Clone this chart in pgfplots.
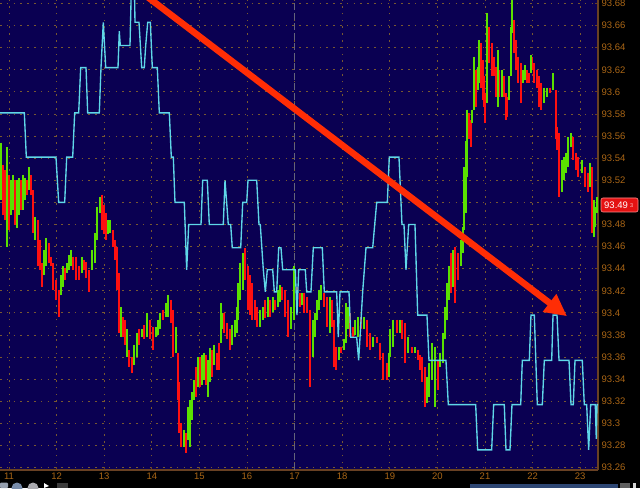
\documentclass[border=0pt]{standalone}
\usepackage{fontspec}
\setmainfont{Liberation Sans}
\usepackage{pgfplots}
\usepackage{pgfplotstable}
\pgfplotsset{compat=1.18}
\usetikzlibrary{arrows.meta}
\definecolor{bgnavy}{RGB}{10,0,82}
\definecolor{gridbrown}{RGB}{120,88,48}
\definecolor{axbrown}{RGB}{105,65,35}
\definecolor{lblorange}{RGB}{170,102,22}
\definecolor{cyanline}{RGB}{95,215,232}
\definecolor{barred}{RGB}{255,16,16}
\definecolor{bargreen}{RGB}{90,225,0}
\definecolor{arrowred}{RGB}{255,45,5}
\definecolor{tagred}{RGB}{228,18,18}
\definecolor{tagborder}{RGB}{255,140,140}
\definecolor{tagsmall}{RGB}{255,200,200}
\definecolor{vline}{RGB}{100,100,122}
\definecolor{uiA}{RGB}{150,160,175}
\definecolor{uiB}{RGB}{120,140,170}
\definecolor{uiC}{RGB}{170,170,175}
\definecolor{uiD}{RGB}{60,60,60}
\definecolor{uiE}{RGB}{45,70,115}
\definecolor{uiF}{RGB}{95,95,95}
\definecolor{uiG}{RGB}{210,210,210}

\pgfplotstableread{
t hi lo c
10.832 93.554 93.502 1
10.874 93.534 93.489 0
10.916 93.529 93.484 0
10.958 93.550 93.460 1
11.000 93.525 93.475 0
11.042 93.520 93.489 1
11.084 93.525 93.493 1
11.126 93.520 93.480 0
11.168 93.520 93.477 1
11.210 93.522 93.489 1
11.252 93.520 93.493 0
11.294 93.525 93.493 1
11.336 93.522 93.502 1
11.378 93.520 93.507 0
11.420 93.532 93.511 1
11.462 93.525 93.507 0
11.504 93.511 93.472 0
11.546 93.487 93.466 1
11.609 93.484 93.442 0
11.651 93.466 93.439 0
11.693 93.445 93.423 0
11.735 93.457 93.434 1
11.777 93.468 93.442 1
11.840 93.463 93.445 0
11.882 93.451 93.442 0
11.924 93.445 93.421 0
11.987 93.430 93.412 0
12.050 93.421 93.396 0
12.092 93.434 93.416 1
12.134 93.442 93.423 1
12.176 93.441 93.430 0
12.218 93.445 93.436 1
12.261 93.452 93.439 1
12.303 93.457 93.442 1
12.345 93.451 93.439 0
12.408 93.451 93.430 0
12.471 93.442 93.430 0
12.534 93.451 93.436 1
12.576 93.448 93.439 0
12.618 93.446 93.432 0
12.681 93.439 93.419 0
12.744 93.457 93.439 1
12.807 93.472 93.445 1
12.849 93.496 93.466 1
12.912 93.505 93.490 1
12.954 93.507 93.475 0
12.996 93.498 93.471 0
13.038 93.490 93.466 0
13.080 93.484 93.471 1
13.122 93.484 93.472 1
13.185 93.475 93.460 0
13.227 93.466 93.448 0
13.269 93.460 93.421 0
13.311 93.436 93.382 0
13.353 93.405 93.378 1
13.395 93.396 93.378 0
13.437 93.394 93.371 0
13.479 93.385 93.360 1
13.521 93.366 93.351 0
13.584 93.360 93.346 0
13.626 93.371 93.353 1
13.689 93.382 93.360 1
13.731 93.385 93.371 0
13.794 93.385 93.378 1
13.836 93.389 93.376 0
13.899 93.400 93.378 1
13.962 93.394 93.376 0
14.025 93.387 93.366 0
14.088 93.387 93.378 1
14.130 93.394 93.380 1
14.172 93.400 93.385 1
14.235 93.403 93.394 0
14.298 93.409 93.396 1
14.340 93.416 93.396 1
14.403 93.412 93.391 0
14.445 93.403 93.360 0
14.508 93.387 93.364 1
14.550 93.364 93.321 0
14.571 93.337 93.291 0
14.613 93.300 93.279 0
14.676 93.294 93.279 1
14.718 93.291 93.273 0
14.760 93.315 93.285 1
14.802 93.321 93.279 1
14.844 93.328 93.303 1
14.887 93.339 93.321 1
14.929 93.351 93.324 0
14.971 93.360 93.333 1
15.013 93.360 93.333 0
15.055 93.362 93.335 1
15.097 93.364 93.339 1
15.139 93.362 93.335 0
15.181 93.357 93.324 1
15.223 93.368 93.337 1
15.265 93.366 93.342 0
15.307 93.371 93.353 1
15.370 93.364 93.348 0
15.412 93.373 93.348 0
15.454 93.409 93.373 1
15.475 93.400 93.385 1
15.517 93.400 93.382 0
15.580 93.391 93.376 0
15.643 93.385 93.366 0
15.685 93.389 93.371 1
15.748 93.394 93.378 1
15.790 93.405 93.382 1
15.811 93.427 93.394 1
15.853 93.445 93.412 1
15.916 93.454 93.421 1
15.958 93.459 93.430 0
16.021 93.442 93.403 0
16.063 93.434 93.398 0
16.105 93.427 93.394 0
16.168 93.412 93.394 0
16.210 93.405 93.387 0
16.273 93.403 93.387 1
16.336 93.405 93.394 1
16.378 93.412 93.395 0
16.441 93.414 93.396 1
16.483 93.412 93.396 0
16.546 93.414 93.401 1
16.588 93.412 93.403 0
16.651 93.421 93.405 1
16.693 93.425 93.410 1
16.735 93.423 93.412 0
16.798 93.421 93.396 0
16.861 93.412 93.378 0
16.924 93.405 93.385 1
16.987 93.442 93.394 1
17.050 93.423 93.409 0
17.113 93.418 93.405 0
17.155 93.418 93.407 1
17.197 93.418 93.400 0
17.260 93.414 93.400 0
17.323 93.403 93.333 0
17.387 93.394 93.360 1
17.429 93.400 93.378 1
17.471 93.412 93.394 1
17.513 93.421 93.403 1
17.555 93.425 93.412 1
17.618 93.418 93.405 0
17.681 93.414 93.387 0
17.744 93.414 93.382 1
17.786 93.412 93.387 0
17.828 93.394 93.351 0
17.870 93.369 93.348 0
17.933 93.369 93.357 1
17.975 93.369 93.364 0
18.038 93.376 93.366 1
18.080 93.409 93.373 1
18.122 93.405 93.385 1
18.164 93.400 93.378 0
18.227 93.387 93.378 0
18.269 93.394 93.380 1
18.332 93.396 93.378 1
18.395 93.396 93.385 0
18.458 93.396 93.385 1
18.521 93.394 93.369 0
18.584 93.382 93.366 0
18.647 93.378 93.369 1
18.731 93.378 93.373 0
18.794 93.373 93.357 0
18.857 93.364 93.339 0
18.941 93.355 93.339 0
18.983 93.364 93.342 1
19.004 93.385 93.360 1
19.067 93.394 93.369 1
19.151 93.394 93.382 0
19.214 93.394 93.382 1
19.256 93.394 93.376 0
19.319 93.391 93.355 0
19.382 93.378 93.364 1
19.466 93.369 93.364 0
19.529 93.369 93.364 1
19.592 93.366 93.357 0
19.634 93.362 93.348 0
19.676 93.360 93.337 0
19.739 93.351 93.315 0
19.781 93.342 93.318 1
19.823 93.355 93.324 1
19.886 93.373 93.339 1
19.949 93.369 93.315 1
20.013 93.357 93.330 0
20.055 93.364 93.351 1
20.118 93.382 93.355 1
20.160 93.405 93.376 1
20.202 93.427 93.394 1
20.244 93.442 93.412 1
20.286 93.454 93.418 0
20.328 93.457 93.423 1
20.370 93.460 93.409 0
20.433 93.454 93.430 0
20.496 93.466 93.442 1
20.538 93.478 93.454 1
20.559 93.532 93.475 1
20.601 93.556 93.490 1
20.622 93.584 93.523 1
20.664 93.581 93.557 0
20.706 93.575 93.550 0
20.727 93.584 93.572 1
20.769 93.632 93.584 1
20.811 93.620 93.586 0
20.853 93.623 93.602 1
20.874 93.647 93.608 1
20.916 93.644 93.604 0
20.958 93.629 93.593 0
20.979 93.614 93.586 0
21.000 93.599 93.572 0
21.042 93.671 93.590 1
21.084 93.659 93.626 0
21.147 93.644 93.614 0
21.189 93.632 93.614 0
21.231 93.623 93.595 0
21.273 93.638 93.586 1
21.294 93.620 93.595 0
21.357 93.620 93.595 1
21.399 93.614 93.595 0
21.441 93.599 93.575 0
21.462 93.595 93.577 0
21.504 93.614 93.593 1
21.546 93.659 93.614 1
21.567 93.683 93.653 1
21.609 93.665 93.635 0
21.651 93.647 93.620 0
21.693 93.632 93.608 0
21.756 93.626 93.590 0
21.798 93.620 93.608 1
21.840 93.624 93.611 1
21.882 93.620 93.608 0
21.924 93.617 93.608 0
21.966 93.633 93.617 1
21.987 93.632 93.620 0
22.029 93.626 93.608 0
22.092 93.620 93.604 0
22.134 93.614 93.586 0
22.176 93.608 93.584 0
22.239 93.604 93.590 1
22.302 93.604 93.595 1
22.365 93.604 93.599 0
22.428 93.617 93.602 1
22.491 93.602 93.557 0
22.512 93.568 93.547 0
22.554 93.563 93.505 0
22.617 93.538 93.509 1
22.659 93.541 93.520 1
22.701 93.545 93.527 1
22.743 93.559 93.532 1
22.806 93.563 93.550 1
22.848 93.559 93.538 0
22.912 93.545 93.529 0
22.954 93.541 93.523 0
23.038 93.538 93.527 1
23.101 93.532 93.514 0
23.164 93.527 93.509 0
23.206 93.536 93.514 1
23.248 93.532 93.472 0
23.290 93.502 93.469 1
23.311 93.496 93.478 1
23.353 93.505 93.490 1
}\bars

\begin{document}
\begin{tikzpicture}[x=1pt,y=1pt]
\fill[black] (0pt,0pt) rectangle (640pt,488pt);
\begin{axis}[
  at={(0pt,18pt)}, anchor=south west,
  scale only axis, width=598pt, height=470pt,
  xmin=10.811, xmax=23.374, ymin=93.2578, ymax=93.6832,
  axis background/.style={fill=bgnavy},
  axis x line*=bottom, axis y line*=right,
  axis line style={axbrown, line width=1.6pt},
  xtick={11,12,13,14,15,16,17,18,19,20,21,22,23},
  ytick={93.26,93.28,93.30,93.32,93.34,93.36,93.38,93.40,93.42,93.44,93.46,93.48,93.50,93.52,93.54,93.56,93.58,93.60,93.62,93.64,93.66,93.68},
  scaled y ticks=false,
  tick align=inside, major tick length=3pt,
  tick style={axbrown, line width=0.9pt},
  grid=major,
  major grid style={gridbrown, line width=0.9pt, dash pattern=on 1.6pt off 5.2pt},
  /pgf/number format/assume math mode=true,
  ticklabel style={font=\fontsize{9.5}{10}\selectfont, text=lblorange},
  yticklabel style={anchor=west, inner sep=0pt, xshift=3.5pt, /pgf/number format/fixed, /pgf/number format/precision=2},
  xticklabel style={anchor=north, inner sep=0pt, yshift=-3pt},
]
\draw[vline, line width=1.4pt, dash pattern=on 7pt off 3pt] (axis cs:17,93.2578) -- (axis cs:17,93.6832);

\addplot[barred, line width=1.8pt, mark=none, line cap=butt,
  restrict expr to domain={\thisrow{c}}{-0.5:0.5},
  quiver={u=0, v={\thisrow{lo}-\thisrow{hi}}}]
  table[x=t, y=hi] {\bars};
\addplot[bargreen, line width=1.8pt, mark=none, line cap=butt,
  restrict expr to domain={\thisrow{c}}{0.5:1.5},
  quiver={u=0, v={\thisrow{lo}-\thisrow{hi}}}]
  table[x=t, y=hi] {\bars};

\addplot[cyanline, line width=1.35pt, mark=none] coordinates {
(10.811,93.581) (11.322,93.581) (11.364,93.541) (11.987,93.541) (12.044,93.500) (12.170,93.500) (12.212,93.541) (12.338,93.541) (12.380,93.581) (12.464,93.581) (12.506,93.622) (12.618,93.622) (12.653,93.581) (12.897,93.581) (12.933,93.622) (12.981,93.663) (13.032,93.622) (13.290,93.622) (13.317,93.655) (13.338,93.642) (13.542,93.642) (13.584,93.72) (13.626,93.72) (13.647,93.663) (13.731,93.663) (13.788,93.622) (13.842,93.622) (13.872,93.642) (13.914,93.663) (13.969,93.663) (14.011,93.622) (14.116,93.622) (14.158,93.581) (14.368,93.581) (14.410,93.541) (14.452,93.541) (14.487,93.500) (14.683,93.500) (14.733,93.439) (14.775,93.480) (15.034,93.480) (15.069,93.520) (15.166,93.520) (15.208,93.480) (15.502,93.480) (15.538,93.520) (15.607,93.480) (15.657,93.480) (15.691,93.459) (15.868,93.459) (15.910,93.500) (15.994,93.500) (16.021,93.520) (16.204,93.520) (16.252,93.480) (16.279,93.480) (16.343,93.439) (16.385,93.419) (16.426,93.439) (16.540,93.439) (16.574,93.419) (16.624,93.419) (16.666,93.459) (16.714,93.459) (16.750,93.439) (17.015,93.439) (17.050,93.398) (17.086,93.439) (17.225,93.439) (17.254,93.419) (17.344,93.419) (17.393,93.459) (17.582,93.459) (17.624,93.419) (17.884,93.419) (17.918,93.378) (17.954,93.419) (18.143,93.419) (18.179,93.378) (18.304,93.378) (18.346,93.357) (18.430,93.419) (18.500,93.459) (18.641,93.459) (18.683,93.480) (18.725,93.500) (18.948,93.500) (18.989,93.541) (19.193,93.541) (19.256,93.480) (19.298,93.480) (19.340,93.439) (19.397,93.480) (19.529,93.480) (19.586,93.398) (19.781,93.398) (19.823,93.357) (20.180,93.357) (20.229,93.317) (20.804,93.317) (20.846,93.276) (21.140,93.276) (21.182,93.317) (21.405,93.317) (21.441,93.276) (21.525,93.276) (21.567,93.317) (21.750,93.317) (21.784,93.357) (21.931,93.357) (21.966,93.398) (22.036,93.398) (22.099,93.317) (22.204,93.317) (22.246,93.357) (22.401,93.357) (22.429,93.398) (22.513,93.398) (22.555,93.357) (22.765,93.357) (22.807,93.317) (22.855,93.317) (22.891,93.357) (23.044,93.357) (23.086,93.317) (23.136,93.317) (23.178,93.276) (23.220,93.317) (23.317,93.317) (23.338,93.286) (23.353,93.317) (23.374,93.317)
};

\draw[arrowred, line width=6.5pt, -{Triangle[length=22pt, width=21pt]}]
  (axis cs:13.857,93.6877) -- (axis cs:22.723,93.397);
\end{axis}

% price tag
\fill[tagred, rounded corners=2pt] (601pt,276pt) rectangle (638pt,290pt);
\draw[tagborder, line width=0.6pt, rounded corners=2pt] (601pt,276pt) rectangle (638pt,290pt);
\node[text=white, font=\fontsize{9.5}{10}\selectfont, inner sep=0pt, anchor=west] at (604pt,283pt) {93.49};
\node[text=tagsmall, font=\fontsize{5.5}{6}\selectfont, inner sep=0pt, anchor=west] at (630pt,282pt) {3};

% bottom UI elements
\fill[uiA, rounded corners=1pt] (0pt,0pt) rectangle (8pt,5.5pt);
\fill[uiB] (17pt,0pt) circle (5.5pt);
\fill[uiC] (33pt,0pt) circle (5.5pt);
\fill[white] (44pt,0pt) -- (44pt,5pt) -- (49pt,2pt) -- cycle;
\fill[uiD] (57pt,0pt) rectangle (68pt,5pt);
\fill[uiE] (470pt,0pt) rectangle (618pt,4.5pt);
\fill[uiF] (620pt,0pt) rectangle (630pt,5pt);
\fill[uiG] (633pt,0pt) rectangle (636pt,5pt);

\pgfresetboundingbox
\useasboundingbox (0pt,0pt) rectangle (640pt,488pt);
\end{tikzpicture}
\end{document}
